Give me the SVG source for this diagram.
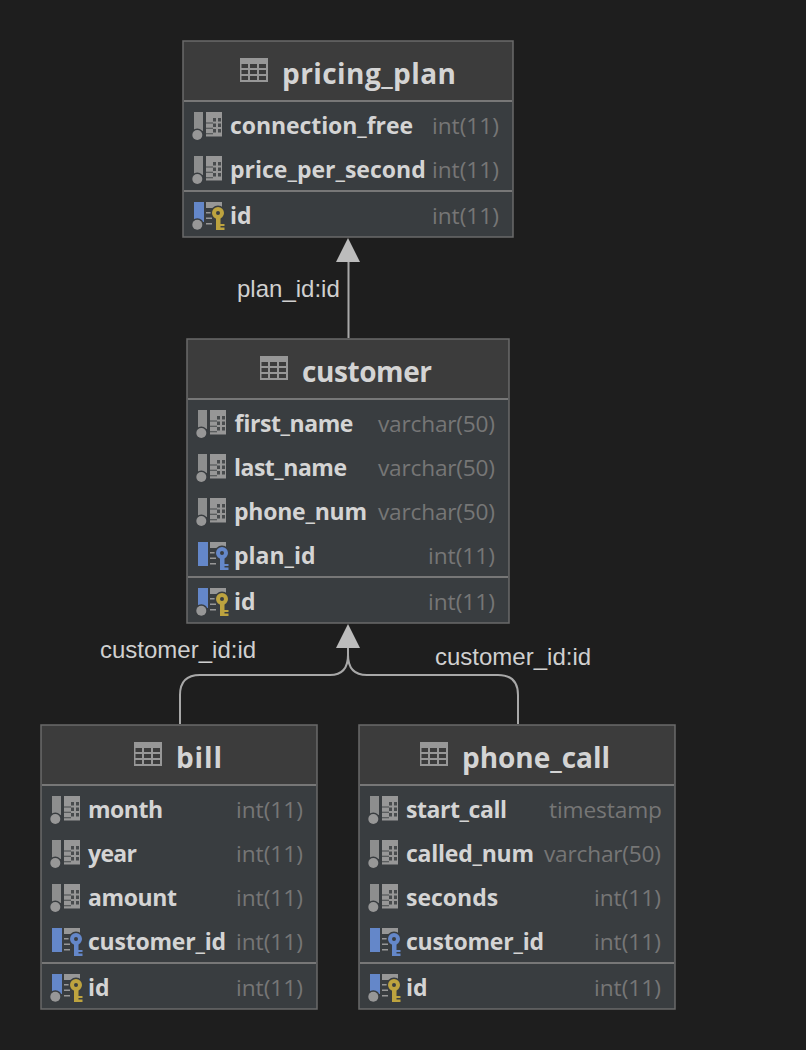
<svg xmlns="http://www.w3.org/2000/svg" width="806" height="1050" viewBox="0 0 806 1050">
<style>
.bg{fill:#1e1e1e}
.head{fill:#3c3c3c}
.body{fill:#393d40}
.border{fill:none;stroke:#6a6a6a;stroke-width:1.500}
.sep{stroke:#777;stroke-width:2}
.title{font:700 28px "Open Sans","Noto Sans",sans-serif;fill:#d4d4d4;transform:translateY(-.6px)}
.name{font:700 23px "Open Sans","Noto Sans",sans-serif;fill:#d4d4d4;transform:translateY(-.6px)}
.type{font:400 22.700px "Open Sans","Noto Sans",sans-serif;fill:#767676;text-anchor:end;transform:translateY(-.6px)}
.lbl{font:400 24px "Liberation Sans",Arial,sans-serif;fill:#d0d0d0}
.conn{fill:none;stroke:#a8a8a8;stroke-width:2}
.arrow{fill:#bcbcbc}
.g{fill:#979797}
.d{fill:#393d40}
</style>
<defs>
<symbol id="tbl" overflow="visible">
<path class="g" d="M0 0h28v24h-28z"/>
<path class="head" d="M1.500 6h6.500v4h-6.500zM10 6h7v4h-7zM19 6h7v4h-7zM1.500 12h6.500v4h-6.500zM10 12h7v4h-7zM19 12h7v4h-7zM1.500 18h6.500v4h-6.500zM10 18h7v4h-7zM19 18h7v4h-7z"/>
</symbol>
<symbol id="col" overflow="visible">
<rect class="g" x="0" y="-14" width="9" height="19" fill-opacity=".9"/>
<circle cx="3.300" cy="9" r="6.500" class="d"/>
<circle cx="3.300" cy="9" r="5" class="g"/>
<path class="g" d="M12-14h16v24.500h-16z"/>
<path class="d" fill-opacity=".85" d="M19-8h3v3.500h-3zM24-8h3v3.500h-3zM19-2.500h3v3.500h-3zM24-2.500h3v3.500h-3zM19 3h3v3.500h-3zM24 3h3v3.500h-3zM12-3.500h7v1h-7zM12 1.800h7v1h-7zM12 7.300h7v1h-7z"/>
</symbol>
<symbol id="pk" overflow="visible">
<rect x="0" y="-14" width="10" height="20" fill="#6487c9"/>
<circle cx="3.300" cy="8.700" r="6.500" class="d"/>
<circle cx="3.300" cy="8.700" r="5" class="g"/>
<path class="g" d="M12-14h16v6h-16zM12-4h6v1.500h-6zM12 1.500h6v1.500h-6zM12 7h6v1.500h-6z"/>
<circle cx="24" cy="-3" r="7.500" class="d"/>
<circle cx="24" cy="-3" r="4" fill="none" stroke="#bda33f" stroke-width="4"/>
<path fill="#bda33f" d="M22-1h4.500v15h-4.500zM26 8h4.500v2h-4.500zM26 11.500h4.500v2.500h-4.500z"/>
</symbol>
<symbol id="fk" overflow="visible">
<rect x="0" y="-14" width="10" height="24" fill="#6487c9"/>
<path class="g" d="M12-14h16v6h-16zM12-4h6v1.500h-6zM12 1.500h6v1.500h-6zM12 7h6v1.500h-6z"/>
<circle cx="24" cy="-3" r="7.500" class="d"/>
<circle cx="24" cy="-3" r="4" fill="none" stroke="#6487c9" stroke-width="4"/>
<path fill="#6487c9" d="M22-1h4.500v15h-4.500zM26 8h4.500v2h-4.500zM26 11.500h4.500v2.500h-4.500z"/>
</symbol>
</defs>
<rect class="bg" width="806" height="1050"/>
<g id="connectors">
<path class="conn" d="M348.500 338V262"/>
<path class="arrow" d="M348 238L360 262H336z"/>
<path class="conn" d="M180 724V695Q180 675 200 675H330Q348 675 348 655V648"/>
<path class="conn" d="M518 724V695Q518 675 498 675H367Q348 675 348 655"/>
<path class="arrow" d="M348 624L360 648H336z"/>
<text class="lbl" x="237" y="297">plan_id:id</text>
<text class="lbl" x="100" y="658">customer_id:id</text>
<text class="lbl" x="435" y="665">customer_id:id</text>
</g>
<g id="pricing_plan">
<rect class="head" x="183" y="41" width="330" height="60"/>
<rect class="body" x="183" y="100" width="330" height="137"/>
<rect class="border" x="183" y="41" width="330" height="196"/>
<path class="sep" d="M184 101H512M184 191H512"/>
<use href="#tbl" x="240" y="58"/>
<text class="title" x="282" y="85" textLength="174">pricing_plan</text>
<use href="#col" x="194" y="126"/><text class="name" x="230" y="135" textLength="183">connection_free</text><text class="type" x="499" y="135">int(11)</text>
<use href="#col" x="194" y="170"/><text class="name" x="230" y="179">price_per_second</text><text class="type" x="499" y="179">int(11)</text>
<use href="#pk" x="194" y="216"/><text class="name" x="230" y="225">id</text><text class="type" x="499" y="225">int(11)</text>
</g>
<g id="customer">
<rect class="head" x="187" y="339" width="322" height="60"/>
<rect class="body" x="187" y="398" width="322" height="225"/>
<rect class="border" x="187" y="339" width="322" height="284"/>
<path class="sep" d="M188 399H508M188 577H508"/>
<use href="#tbl" x="260" y="356"/>
<text class="title" x="302" y="383" textLength="130">customer</text>
<use href="#col" x="198" y="424"/><text class="name" x="234" y="433" textLength="119">first_name</text><text class="type" x="495" y="433" textLength="117">varchar(50)</text>
<use href="#col" x="198" y="468"/><text class="name" x="234" y="477" textLength="113">last_name</text><text class="type" x="495" y="477" textLength="117">varchar(50)</text>
<use href="#col" x="198" y="512"/><text class="name" x="234" y="521" textLength="133">phone_num</text><text class="type" x="495" y="521" textLength="117">varchar(50)</text>
<use href="#fk" x="198" y="556"/><text class="name" x="234" y="565">plan_id</text><text class="type" x="495" y="565">int(11)</text>
<use href="#pk" x="198" y="602"/><text class="name" x="234" y="611">id</text><text class="type" x="495" y="611">int(11)</text>
</g>
<g id="bill">
<rect class="head" x="41" y="725" width="276" height="60"/>
<rect class="body" x="41" y="784" width="276" height="225"/>
<rect class="border" x="41" y="725" width="276" height="284"/>
<path class="sep" d="M42 785H316M42 963H316"/>
<use href="#tbl" x="134" y="742"/>
<text class="title" x="176" y="769" textLength="46">bill</text>
<use href="#col" x="52" y="810"/><text class="name" x="88" y="819" textLength="75">month</text><text class="type" x="303" y="819">int(11)</text>
<use href="#col" x="52" y="854"/><text class="name" x="88" y="863" textLength="49">year</text><text class="type" x="303" y="863">int(11)</text>
<use href="#col" x="52" y="898"/><text class="name" x="88" y="907" textLength="89">amount</text><text class="type" x="303" y="907">int(11)</text>
<use href="#fk" x="52" y="942"/><text class="name" x="88" y="951" textLength="138">customer_id</text><text class="type" x="303" y="951">int(11)</text>
<use href="#pk" x="52" y="988"/><text class="name" x="88" y="997">id</text><text class="type" x="303" y="997">int(11)</text>
</g>
<g id="phone_call">
<rect class="head" x="359" y="725" width="316" height="60"/>
<rect class="body" x="359" y="784" width="316" height="225"/>
<rect class="border" x="359" y="725" width="316" height="284"/>
<path class="sep" d="M360 785H674M360 963H674"/>
<use href="#tbl" x="420" y="742"/>
<text class="title" x="462" y="769" textLength="148">phone_call</text>
<use href="#col" x="370" y="810"/><text class="name" x="406" y="819" textLength="101">start_call</text><text class="type" x="662" y="819" textLength="113">timestamp</text>
<use href="#col" x="370" y="854"/><text class="name" x="406" y="863" textLength="128">called_num</text><text class="type" x="661" y="863" textLength="117">varchar(50)</text>
<use href="#col" x="370" y="898"/><text class="name" x="406" y="907">seconds</text><text class="type" x="661" y="907">int(11)</text>
<use href="#fk" x="370" y="942"/><text class="name" x="406" y="951" textLength="138">customer_id</text><text class="type" x="661" y="951">int(11)</text>
<use href="#pk" x="370" y="988"/><text class="name" x="406" y="997">id</text><text class="type" x="661" y="997">int(11)</text>
</g>
</svg>
